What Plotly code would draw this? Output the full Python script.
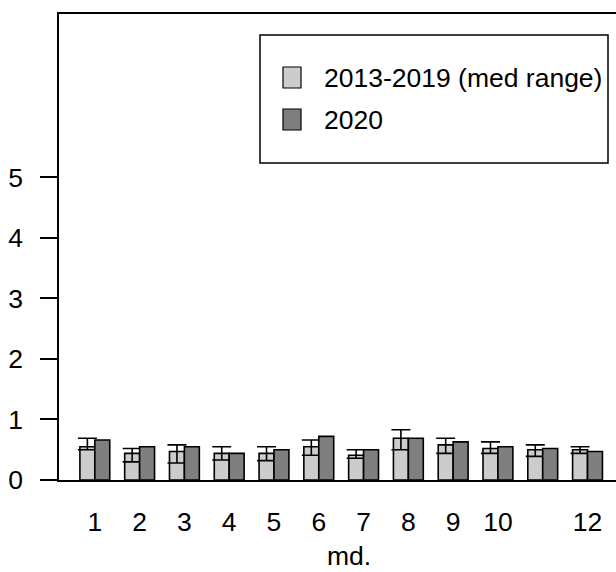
import plotly.graph_objects as go

# ---- data ----
months = ["1", "2", "3", "4", "5", "6", "7", "8", "9", "10", "11", "12"]
# R dropped the "11" label because it would overlap its neighbours
shown_labels = ["1", "2", "3", "4", "5", "6", "7", "8", "9", "10", "", "12"]
series_names = ["2013-2019 (med range)", "2020"]
x_title = "md."
med_2013_2019 = [0.55, 0.44, 0.47, 0.44, 0.44, 0.55, 0.41, 0.69, 0.58, 0.52, 0.50, 0.50]
min_2013_2019 = [0.50, 0.30, 0.28, 0.33, 0.32, 0.41, 0.36, 0.50, 0.44, 0.44, 0.39, 0.44]
max_2013_2019 = [0.69, 0.52, 0.58, 0.55, 0.55, 0.66, 0.50, 0.83, 0.69, 0.63, 0.58, 0.55]
val_2020 = [0.66, 0.55, 0.55, 0.44, 0.50, 0.72, 0.50, 0.69, 0.63, 0.55, 0.52, 0.47]
y_ticks = [0, 1, 2, 3, 4, 5]

# ---- layout helpers (R barplot, beside=TRUE: 1 unit gap + 2 bars per group) ----
W, H = 616, 572
L, R_, T, B = 59, 0, 14, 92
FONT = "Liberation Sans, Arial, sans-serif"
FS = 26.5
LIGHT, DARK = "#cccccc", "#7f7f7f"
UNIT_PX = 14.93     # px per bar unit
Y_PX = 60.54        # px per y unit

idx = list(range(len(months)))
x_light = [1.5 + 3 * i for i in idx]
x_dark = [2.5 + 3 * i for i in idx]
x_group = [2.0 + 3 * i for i in idx]

err_plus = [h - m for h, m in zip(max_2013_2019, med_2013_2019)]
err_minus = [m - l for m, l in zip(med_2013_2019, min_2013_2019)]

fig = go.Figure()
fig.add_trace(go.Bar(
    x=x_light, y=med_2013_2019, width=1.0, name=series_names[0],
    marker=dict(color=LIGHT, line=dict(color="black", width=1.6)),
    error_y=dict(type="data", symmetric=False, array=err_plus, arrayminus=err_minus,
                 color="black", thickness=1.6, width=9.5),
    showlegend=False,
))
fig.add_trace(go.Bar(
    x=x_dark, y=val_2020, width=1.0, name=series_names[1],
    marker=dict(color=DARK, line=dict(color="black", width=1.6)),
    showlegend=False,
))

pw = W - L - R_
ph = H - T - B


def px(xp):
    return (xp - L) / pw


def py(yp):
    return (H - B - yp) / ph


# manual legend box (R legend style)
shapes = [
    dict(type="rect", xref="paper", yref="paper", x0=px(260), x1=px(608), y0=py(163), y1=py(35),
         line=dict(color="black", width=1.5), fillcolor="white", layer="above"),
    dict(type="rect", xref="paper", yref="paper", x0=px(283), x1=px(301), y0=py(88), y1=py(67),
         line=dict(color="black", width=1.2), fillcolor=LIGHT, layer="above"),
    dict(type="rect", xref="paper", yref="paper", x0=px(283), x1=px(301), y0=py(130), y1=py(109),
         line=dict(color="black", width=1.2), fillcolor=DARK, layer="above"),
]
annotations = [
    dict(xref="paper", yref="paper", x=px(322), y=py(78), text=series_names[0], showarrow=False,
         xanchor="left", yanchor="middle", font=dict(family=FONT, size=FS, color="black")),
    dict(xref="paper", yref="paper", x=px(322), y=py(120), text=series_names[1], showarrow=False,
         xanchor="left", yanchor="middle", font=dict(family=FONT, size=FS, color="black")),
    # x axis title, placed as R does (near the bottom of the figure)
    dict(xref="x", yref="paper", x=19.0, y=py(572), text=x_title, showarrow=False, borderpad=0,
         xanchor="center", yanchor="bottom", font=dict(family=FONT, size=FS, color="black")),
]

fig.update_layout(
    width=W, height=H,
    margin=dict(l=L, r=R_, t=T, b=B, pad=0),
    paper_bgcolor="white", plot_bgcolor="white",
    font=dict(family=FONT, size=FS, color="black"),
    barmode="overlay",
    shapes=shapes, annotations=annotations,
    xaxis=dict(
        range=[-0.4, -0.4 + pw / UNIT_PX], showgrid=False, zeroline=False,
        showline=True, mirror=True, linecolor="black", linewidth=1.6,
        tickmode="array", tickvals=x_group, ticktext=shown_labels, ticks="",
        ticklabelstandoff=17,
        fixedrange=True,
    ),
    yaxis=dict(
        range=[0, ph / Y_PX], showgrid=False, zeroline=False,
        showline=True, linecolor="black", linewidth=1.6,
        tickmode="array", tickvals=y_ticks, ticks="outside", ticklen=17, tickwidth=1.6,
        tickcolor="black", ticklabelstandoff=12,
        fixedrange=True,
    ),
)

fig.write_html("out.html", config={"displayModeBar": False},
               post_script="document.body.style.margin='0px';")
